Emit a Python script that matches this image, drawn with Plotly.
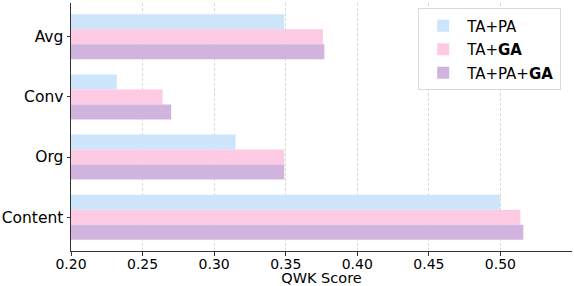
import plotly.graph_objects as go

categories = ["Avg", "Conv", "Org", "Content"]
series_names = ["TA+PA", "TA+<b>GA</b>", "TA+PA+<b>GA</b>"]
ta_pa = [0.349, 0.232, 0.315, 0.500]
ta_ga = [0.376, 0.264, 0.349, 0.514]
ta_pa_ga = [0.377, 0.270, 0.349, 0.516]
x_ticks = [0.20, 0.25, 0.30, 0.35, 0.40, 0.45, 0.50]
x_tick_labels = ["0.20", "0.25", "0.30", "0.35", "0.40", "0.45", "0.50"]

colors = ["#cce5fb", "#fdcae3", "#d1b4dd"]
values = [ta_pa, ta_ga, ta_pa_ga]

fig = go.Figure()
for i, (name, vals, col) in enumerate(zip(series_names, values, colors)):
    fig.add_trace(go.Bar(
        y=categories, x=vals, orientation="h", name=name,
        marker=dict(color=col, line=dict(width=0)),
        base=0, legendgroup=f"g{i}",
    ))

fig.update_layout(
    width=574, height=286,
    margin=dict(l=71, r=2, t=3, b=35, autoexpand=False),
    barmode="group", bargap=0.25, bargroupgap=0,
    plot_bgcolor="white", paper_bgcolor="white",
    font=dict(family="DejaVu Sans", color="black"),
    legend=dict(
        x=0.693, y=0.978, xanchor="left", yanchor="top",
        bgcolor="white", bordercolor="#d9d9d9", borderwidth=1,
        font=dict(size=15), traceorder="grouped",
        itemwidth=38, tracegroupgap=1,
    ),
)
fig.update_xaxes(
    range=[0.2, 0.55], tickvals=x_ticks, ticktext=x_tick_labels,
    showgrid=True, gridcolor="#d9d9d9", griddash="3px,2px", gridwidth=0.8,
    showline=True, linecolor="#333333", linewidth=1,
    ticks="outside", ticklen=3.5, tickcolor="#333333",
    tickfont=dict(size=14), zeroline=False, layer="above traces",
    automargin=False, ticklabelstandoff=-3,
    title=dict(text="QWK Score", font=dict(size=14.5), standoff=0),
)
fig.update_yaxes(
    range=[3.5625, -0.5625], automargin=False,
    showgrid=False, showline=True, linecolor="#333333", linewidth=1,
    ticks="outside", ticklen=3.5, tickcolor="#333333",
    tickfont=dict(size=15.5), zeroline=False,
)

fig.write_html("out.html", config={"displayModeBar": False},
               post_script="document.body.style.margin='0';")
